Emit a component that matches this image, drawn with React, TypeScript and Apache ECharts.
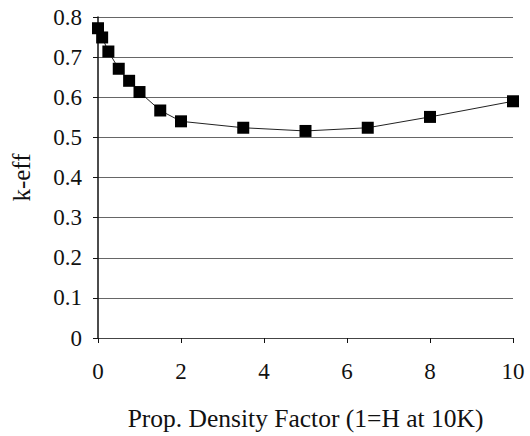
import React, { useEffect, useRef } from "react";
import * as echarts from "echarts";

const xValues = [0, 0.1, 0.25, 0.5, 0.75, 1, 1.5, 2, 3.5, 5, 6.5, 8, 10];
const kEff = [0.772, 0.749, 0.714, 0.671, 0.641, 0.613, 0.567, 0.54, 0.524, 0.516, 0.524, 0.551, 0.59];
const xTitle = "Prop. Density Factor (1=H at 10K)";
const yTitle = "k-eff";

const FONT = "Liberation Serif";

export default function App() {
  const ref = useRef<HTMLDivElement>(null);
  useEffect(() => {
    if (!ref.current) return;
    const chart = echarts.init(ref.current, undefined, { renderer: "svg" });
    chart.setOption({
      animation: false,
      backgroundColor: "#ffffff",
      textStyle: { fontFamily: FONT, color: "#111" },
      grid: { left: 98, right: 17, top: 17, bottom: 96 },
      xAxis: {
        type: "value",
        min: 0,
        max: 10,
        interval: 2,
        name: xTitle,
        nameLocation: "middle",
        nameGap: 67,
        nameTextStyle: { fontFamily: FONT, fontSize: 25.5, color: "#111" },
        axisLine: { show: true, onZero: false, lineStyle: { color: "#444", width: 1 } },
        axisTick: { show: true, length: 5, lineStyle: { color: "#111" } },
        axisLabel: { margin: 22, fontFamily: FONT, fontSize: 23, color: "#111" },
        splitLine: { show: false },
      },
      yAxis: {
        type: "value",
        min: 0,
        max: 0.8,
        interval: 0.1,
        name: yTitle,
        nameLocation: "middle",
        nameGap: 64,
        nameTextStyle: { fontFamily: FONT, fontSize: 25, color: "#111" },
        axisLine: { show: true, onZero: false, lineStyle: { color: "#111", width: 1.5 } },
        axisTick: { show: true, length: 5, lineStyle: { color: "#111" } },
        axisLabel: { margin: 16, fontFamily: FONT, fontSize: 23, color: "#111" },
        splitLine: { show: true, lineStyle: { color: "#666", width: 1 } },
      },
      series: [
        {
          type: "line",
          data: xValues.map((x, i) => [x, kEff[i]]),
          symbol: "rect",
          symbolSize: 12,
          clip: false,
          lineStyle: { color: "#222", width: 1 },
          itemStyle: { color: "#000" },
        },
      ],
    });
    return () => chart.dispose();
  }, []);
  return <div ref={ref} style={{ width: 530, height: 436, position: "absolute", left: 0, top: 0 }} />;
}
